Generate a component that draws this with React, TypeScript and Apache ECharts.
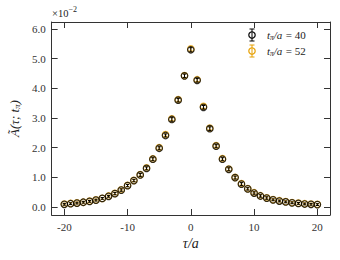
import React, { useEffect, useRef } from "react";
import * as echarts from "echarts";

const TAU = [-20, -19, -18, -17, -16, -15, -14, -13, -12, -11, -10, -9, -8, -7, -6, -5, -4, -3, -2, -1, 0, 1, 2, 3, 4, 5, 6, 7, 8, 9, 10, 11, 12, 13, 14, 15, 16, 17, 18, 19, 20];
const A_T40 = [0.09, 0.11, 0.13, 0.16, 0.19, 0.23, 0.29, 0.36, 0.45, 0.57, 0.72, 0.89, 1.08, 1.30, 1.61, 1.98, 2.41, 2.95, 3.60, 4.42, 5.30, 4.27, 3.36, 2.64, 2.05, 1.61, 1.27, 0.99, 0.77, 0.61, 0.47, 0.37, 0.30, 0.24, 0.20, 0.17, 0.14, 0.12, 0.10, 0.09, 0.08];
const ERR_T40 = [0.03, 0.03, 0.03, 0.03, 0.03, 0.03, 0.03, 0.03, 0.04, 0.04, 0.04, 0.04, 0.05, 0.05, 0.05, 0.05, 0.05, 0.06, 0.06, 0.06, 0.07, 0.06, 0.06, 0.06, 0.05, 0.05, 0.05, 0.05, 0.05, 0.04, 0.04, 0.04, 0.04, 0.03, 0.03, 0.03, 0.03, 0.03, 0.03, 0.03, 0.03];
const A_T52 = [0.10, 0.12, 0.14, 0.16, 0.20, 0.24, 0.29, 0.37, 0.46, 0.58, 0.73, 0.90, 1.09, 1.32, 1.62, 2.00, 2.44, 2.97, 3.62, 4.43, 5.33, 4.29, 3.39, 2.66, 2.07, 1.63, 1.28, 1.00, 0.79, 0.62, 0.48, 0.38, 0.31, 0.25, 0.21, 0.18, 0.15, 0.13, 0.11, 0.10, 0.09];
const ERR_T52 = [0.03, 0.03, 0.03, 0.03, 0.03, 0.03, 0.03, 0.03, 0.04, 0.04, 0.04, 0.04, 0.05, 0.05, 0.05, 0.05, 0.05, 0.06, 0.06, 0.06, 0.07, 0.06, 0.06, 0.06, 0.05, 0.05, 0.05, 0.05, 0.05, 0.04, 0.04, 0.04, 0.04, 0.03, 0.03, 0.03, 0.03, 0.03, 0.03, 0.03, 0.03];
const X_TICKS = [-20, -10, 0, 10, 20];
const Y_TICKS = [0, 1, 2, 3, 4, 5, 6];
const SERIES_NAMES = ["40", "52"];
const COLORS = ["#000000", "#e69f00"];

const FONT = "'Liberation Serif', 'DejaVu Serif', serif";
const AXIS_COLOR = "#333333";

function errorBarSeries(vals: number[], errs: number[], color: string, z: number) {
  return {
    type: "custom",
    z,
    silent: true,
    encode: { x: 0, y: 1 },
    data: TAU.map((t, i) => [t, vals[i], errs[i]]),
    renderItem: (_params: any, api: any) => {
      const x = api.value(0);
      const y = api.value(1);
      const e = api.value(2);
      const top = api.coord([x, y + e]);
      const bot = api.coord([x, y - e]);
      const cw = 1.6;
      const style = { stroke: color, lineWidth: 1 };
      return {
        type: "group",
        children: [
          { type: "line", shape: { x1: top[0], y1: top[1], x2: bot[0], y2: bot[1] }, style },
          { type: "line", shape: { x1: top[0] - cw, y1: top[1], x2: top[0] + cw, y2: top[1] }, style },
          { type: "line", shape: { x1: bot[0] - cw, y1: bot[1], x2: bot[0] + cw, y2: bot[1] }, style },
        ],
      };
    },
  };
}

function scatterSeries(name: string, vals: number[], color: string, z: number) {
  return {
    type: "scatter",
    name,
    z,
    symbol: "circle",
    symbolSize: 6.5,
    data: TAU.map((t, i) => [t, vals[i]]),
    itemStyle: { color: "rgba(0,0,0,0)", borderColor: color, borderWidth: 1.2 },
  };
}

function legendRow(label: string, color: string, cx: number, cy: number) {
  const s = { stroke: color, lineWidth: 1 };
  return [
    { type: "line", shape: { x1: cx, y1: cy - 6, x2: cx, y2: cy + 6 }, style: s },
    { type: "line", shape: { x1: cx - 2.5, y1: cy - 6, x2: cx + 2.5, y2: cy - 6 }, style: s },
    { type: "line", shape: { x1: cx - 2.5, y1: cy + 6, x2: cx + 2.5, y2: cy + 6 }, style: s },
    { type: "circle", shape: { cx, cy, r: 3.2 }, style: { fill: "none", stroke: color, lineWidth: 1.2 } },
    {
      type: "text",
      x: cx + 15,
      y: cy,
      style: {
        text: "{i|t}{s|π}{i|/a} {n|= " + label + "}",
        verticalAlign: "middle",
        rich: {
          i: { fontFamily: FONT, fontStyle: "italic", fontSize: 11, fill: "#222" },
          s: { fontFamily: FONT, fontStyle: "italic", fontSize: 7.5, fill: "#222", verticalAlign: "bottom", padding: [4, 0, 0, 0] },
          n: { fontFamily: FONT, fontSize: 11, fill: "#222" },
        },
      },
    },
  ];
}

export default function App() {
  const ref = useRef<HTMLDivElement>(null);
  useEffect(() => {
    if (!ref.current) return;
    const chart = echarts.init(ref.current, null, { renderer: "svg" });
    const lineStyle = { color: AXIS_COLOR, width: 1 };
    const labelStyle = { fontFamily: FONT, fontSize: 11, color: AXIS_COLOR };
    chart.setOption({
      animation: false,
      backgroundColor: "#ffffff",
      textStyle: { fontFamily: FONT },
      grid: { left: 51, right: 10, top: 22, bottom: 45, containLabel: false },
      xAxis: [
        {
          type: "value",
          min: -22,
          max: 22,
          position: "bottom",
          axisLine: { show: true, onZero: false, lineStyle },
          axisTick: { show: true, inside: true, length: 6, customValues: X_TICKS, lineStyle },
          axisLabel: { show: true, customValues: X_TICKS, margin: 6, ...labelStyle },
          splitLine: { show: false },
          name: "{i|τ/a}",
          nameLocation: "middle",
          nameGap: 19,
          nameTextStyle: {
            rich: { i: { fontFamily: FONT, fontStyle: "italic", fontSize: 14, color: "#222" } },
          },
        },
        {
          type: "value",
          min: -22,
          max: 22,
          position: "top",
          axisLine: { show: true, onZero: false, lineStyle },
          axisTick: { show: true, inside: true, length: 6, customValues: X_TICKS, lineStyle },
          axisLabel: { show: false },
          splitLine: { show: false },
        },
      ],
      yAxis: [
        {
          type: "value",
          min: -0.27,
          max: 6.236,
          position: "left",
          axisLine: { show: true, onZero: false, lineStyle },
          axisTick: { show: true, inside: true, length: 6, customValues: Y_TICKS, lineStyle },
          axisLabel: {
            show: true,
            customValues: Y_TICKS,
            margin: 6,
            formatter: (v: number) => v.toFixed(1),
            ...labelStyle,
          },
          splitLine: { show: false },
          name: "{i|Ã(τ; t}{s|π}{i|)}",
          nameLocation: "middle",
          nameGap: 22,
          nameRotate: 90,
          nameTextStyle: {
            rich: {
              i: { fontFamily: FONT, fontStyle: "italic", fontSize: 13, color: "#222" },
              s: { fontFamily: FONT, fontStyle: "italic", fontSize: 9, color: "#222", verticalAlign: "bottom", padding: [4, 0, 0, 0] },
            },
          },
        },
        {
          type: "value",
          min: -0.27,
          max: 6.236,
          position: "right",
          axisLine: { show: true, onZero: false, lineStyle },
          axisTick: { show: true, inside: true, length: 6, customValues: Y_TICKS, lineStyle },
          axisLabel: { show: false },
          splitLine: { show: false },
        },
      ],
      graphic: [
        {
          type: "text",
          left: 52,
          top: 5,
          style: {
            text: "{n|×10}{s|−2}",
            rich: {
              n: { fontFamily: FONT, fontSize: 10.5, fill: "#222", verticalAlign: "bottom", padding: [3, 0, 0, 0] },
              s: { fontFamily: FONT, fontSize: 8, fill: "#222", verticalAlign: "top" },
            },
          },
        },
        ...legendRow(SERIES_NAMES[0], COLORS[0], 252, 35),
        ...legendRow(SERIES_NAMES[1], COLORS[1], 252, 51),
      ],
      series: [
        errorBarSeries(A_T52, ERR_T52, COLORS[1], 2),
        scatterSeries("t52", A_T52, COLORS[1], 3),
        errorBarSeries(A_T40, ERR_T40, COLORS[0], 4),
        scatterSeries("t40", A_T40, COLORS[0], 5),
      ],
    });
    return () => chart.dispose();
  }, []);
  return (
    <div
      ref={ref}
      style={{ position: "fixed", left: 0, top: 0, width: 340, height: 260, background: "#fff" }}
    />
  );
}
